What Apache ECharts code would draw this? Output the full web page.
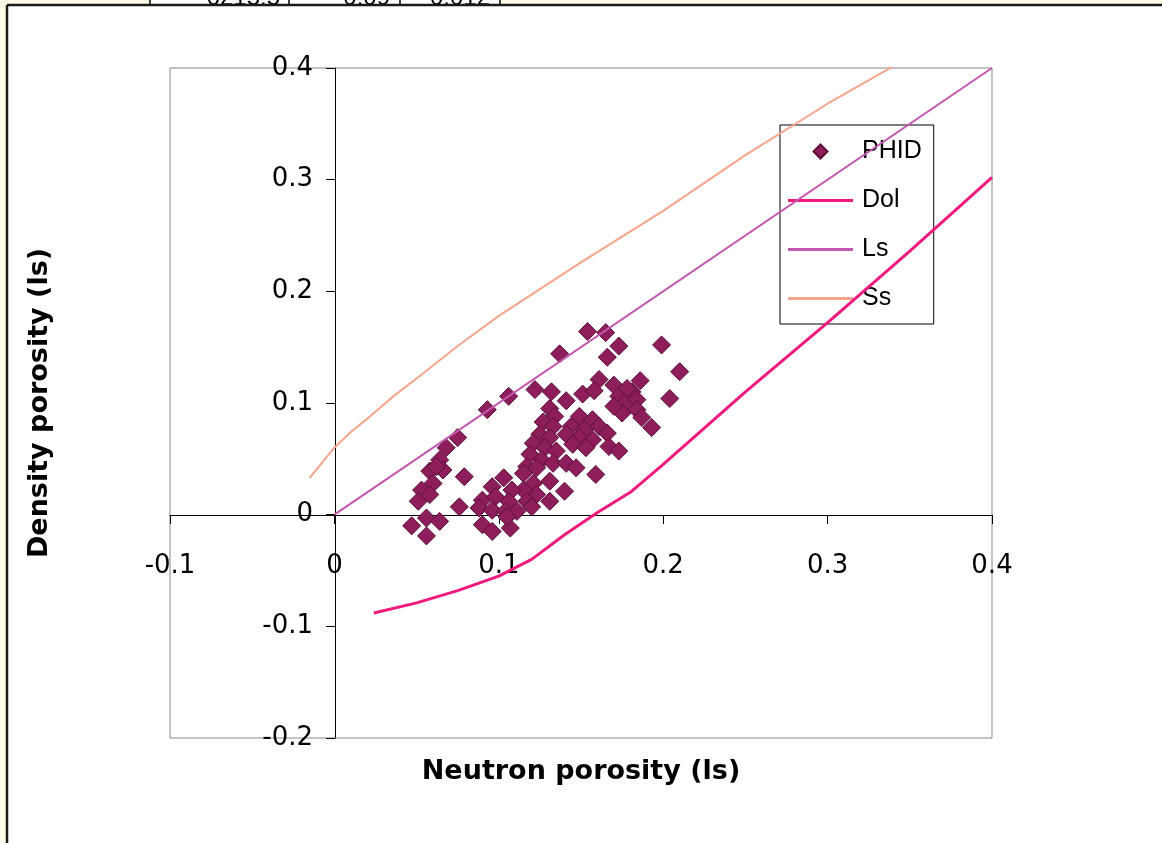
<!DOCTYPE html>
<html><head><meta charset="utf-8">
<script src="https://cdn.jsdelivr.net/npm/echarts@6/dist/echarts.min.js"></script>
<style>html,body{margin:0;padding:0;background:#fffbe6;overflow:hidden}#c{width:1162px;height:843px}</style>
</head><body><div id="c"></div>
<script>
// PHID cloud: neutron porosity (x) and density porosity (y)
const phidX = [0.154,0.165,0.173,0.166,0.199,0.137,0.210,0.204,0.161,0.151,0.158,0.122,0.132,0.141,0.106,0.093,
  0.170,0.186,0.173,0.181,0.177,0.184,0.175,0.184,0.187,0.193,0.178,0.170,
  0.131,0.134,0.127,0.133,0.149,0.157,0.144,0.152,0.161,0.166,0.125,0.131,0.141,0.149,0.157,0.145,0.153,0.167,0.173,
  0.121,0.128,0.135,0.119,0.126,0.133,0.141,0.147,0.159,0.117,0.123,
  0.103,0.096,0.115,0.121,0.131,0.140,0.131,0.123,0.115,0.108,0.090,0.098,0.106,0.117,0.088,0.096,0.104,0.111,0.120,
  0.090,0.096,0.107,0.105,
  0.075,0.068,0.064,0.058,0.066,0.060,0.053,0.058,0.051,0.079,0.076,0.056,0.064,0.047,0.056,0.062];
const phidY = [0.164,0.163,0.151,0.141,0.152,0.144,0.128,0.104,0.121,0.108,0.111,0.112,0.110,0.102,0.106,0.094,
  0.116,0.120,0.106,0.110,0.100,0.103,0.091,0.094,0.087,0.078,0.113,0.097,
  0.095,0.088,0.083,0.079,0.088,0.085,0.079,0.076,0.079,0.073,0.072,0.069,0.072,0.069,0.067,0.063,0.060,0.061,0.057,
  0.064,0.060,0.057,0.054,0.049,0.046,0.046,0.042,0.036,0.043,0.042,
  0.033,0.025,0.037,0.028,0.030,0.021,0.012,0.018,0.022,0.022,0.013,0.016,0.012,0.012,0.006,0.004,0.003,0.003,0.007,
  -0.009,-0.015,-0.012,-0.002,
  0.069,0.060,0.049,0.039,0.040,0.028,0.022,0.018,0.012,0.034,0.007,-0.003,-0.006,-0.010,-0.019,0.043];
// Lithology lines
const dolX = [0.024,0.05,0.075,0.1,0.12,0.14,0.16,0.18,0.2,0.25,0.3,0.35,0.4];
const dolY = [-0.088,-0.079,-0.068,-0.055,-0.04,-0.018,0.002,0.02,0.045,0.11,0.172,0.236,0.302];
const lsX = [0,0.4];
const lsY = [0,0.4];
const ssX = [-0.015,0,0.01,0.02,0.035,0.05,0.075,0.1,0.125,0.15,0.175,0.2,0.25,0.3,0.35];
const ssY = [0.033,0.06,0.074,0.086,0.105,0.122,0.151,0.178,0.202,0.226,0.249,0.272,0.322,0.368,0.41];
const seriesNames = ['PHID','Dol','Ls','Ss'];
const xTitle = 'Neutron porosity (ls)';
const yTitle = 'Density porosity (ls)';
const tableCells = ['6215.5','0.09','0.012'];

const colors = {phid:'#8e1d5c', dol:'#f0197d', ls:'#c257ad', ss:'#f4a58c'};
const zip = (a,b) => a.map((v,i) => [v,b[i]]);
const lineIcon = 'path://M0,0 L65,0 L65,3 L0,3 Z';
const diamondIcon = 'path://M7,0 L14,7 L7,14 L0,7 Z';
const chart = echarts.init(document.getElementById('c'));
const G = {left:170,right:170,top:68,bottom:105};
chart.setOption({
  animation:false,
  graphic:[
    {type:'rect',z:-10,shape:{x:0,y:0,width:1162,height:843},style:{fill:'#fffbe6'}},
    {type:'rect',z:-9,shape:{x:150,y:0,width:350,height:6},style:{fill:'#ffffff'}},
    {type:'text',z:-8,x:280,y:10,style:{text:tableCells[0],font:'24px "Liberation Sans"',fill:'#000',align:'right',verticalAlign:'bottom'}},
    {type:'text',z:-8,x:390,y:10,style:{text:tableCells[1],font:'24px "Liberation Sans"',fill:'#000',align:'right',verticalAlign:'bottom'}},
    {type:'text',z:-8,x:490,y:10,style:{text:tableCells[2],font:'24px "Liberation Sans"',fill:'#000',align:'right',verticalAlign:'bottom'}},
    {type:'line',z:-8,shape:{x1:150,y1:0,x2:150,y2:6},style:{stroke:'#000',lineWidth:1.5}},
    {type:'line',z:-8,shape:{x1:289,y1:0,x2:289,y2:6},style:{stroke:'#000',lineWidth:1.5}},
    {type:'line',z:-8,shape:{x1:400,y1:0,x2:400,y2:6},style:{stroke:'#000',lineWidth:1.5}},
    {type:'line',z:-8,shape:{x1:500,y1:0,x2:500,y2:6},style:{stroke:'#000',lineWidth:1.5}},
    {type:'rect',z:-7,shape:{x:7,y:5,width:1160,height:845},style:{fill:'#ffffff'}},
    {type:'line',z:-6,shape:{x1:7,y1:5,x2:7,y2:843},style:{stroke:'#1a1a1a',lineWidth:2.5}},
    {type:'line',z:-6,shape:{x1:7,y1:5,x2:1162,y2:5},style:{stroke:'#1a1a1a',lineWidth:2.5}},
    {type:'text',x:581,y:772,style:{text:xTitle,font:'bold 27px "DejaVu Sans"',fill:'#000',align:'center',verticalAlign:'middle'}},
    {type:'text',x:40,y:403,rotation:Math.PI/2,style:{text:yTitle,font:'bold 27px "DejaVu Sans"',fill:'#000',align:'center',verticalAlign:'middle'}}
  ],
  grid:Object.assign({show:true,borderColor:'#888888',borderWidth:1,backgroundColor:'transparent'},G),
  xAxis:{type:'value',min:-0.1,max:0.4,interval:0.1,position:'bottom',offset:-223,
    axisLine:{onZero:false,lineStyle:{color:'#000',width:1}},
    axisTick:{show:true,length:9,lineStyle:{color:'#000'}},
    axisLabel:{fontFamily:'DejaVu Sans',fontSize:26,color:'#000',margin:38},
    splitLine:{show:false}},
  yAxis:{type:'value',min:-0.2,max:0.4,interval:0.1,position:'left',offset:-165,
    axisLine:{onZero:false,lineStyle:{color:'#000',width:1}},
    axisTick:{show:true,length:9,lineStyle:{color:'#000'}},
    axisLabel:{fontFamily:'DejaVu Sans',fontSize:26,color:'#000',margin:22},
    splitLine:{show:false}},
  legend:{orient:'vertical',left:780,top:125,symbolKeepAspect:true,
    data:[
      {name:seriesNames[0],icon:diamondIcon,itemStyle:{color:colors.phid}},
      {name:seriesNames[1],icon:lineIcon,itemStyle:{color:colors.dol}},
      {name:seriesNames[2],icon:lineIcon,itemStyle:{color:colors.ls}},
      {name:seriesNames[3],icon:lineIcon,itemStyle:{color:colors.ss}}
    ],
    backgroundColor:'#fff',borderColor:'#000',borderWidth:1,
    padding:[14,12,13,8],itemGap:24,itemWidth:65,itemHeight:14,
    textStyle:{fontFamily:'Liberation Sans',fontSize:25,color:'#000',padding:[0,0,0,4]}},
  series:[
    {name:seriesNames[0],type:'scatter',data:zip(phidX,phidY),symbol:'diamond',symbolSize:18,z:3,
      itemStyle:{color:colors.phid,borderColor:'#5c1039',borderWidth:1,opacity:1}},
    {name:seriesNames[1],type:'line',data:zip(dolX,dolY),symbol:'none',z:4,
      itemStyle:{color:colors.dol},lineStyle:{color:colors.dol,width:3}},
    {name:seriesNames[2],type:'line',data:zip(lsX,lsY),symbol:'none',z:4,
      itemStyle:{color:colors.ls},lineStyle:{color:colors.ls,width:2}},
    {name:seriesNames[3],type:'line',data:zip(ssX,ssY),symbol:'none',z:4,
      itemStyle:{color:colors.ss},lineStyle:{color:colors.ss,width:2}}
  ]
});
</script></body></html>
